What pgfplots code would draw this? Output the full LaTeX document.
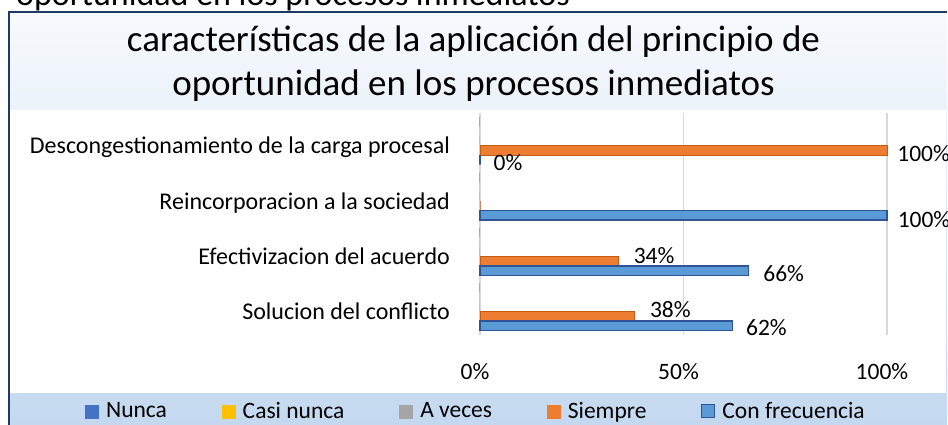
\documentclass[border=0pt]{standalone}
\usepackage{pgfplots}
\pgfplotsset{compat=1.18}
\usepackage{pgfplotstable}
\usepackage{fontspec}
\setmainfont{Carlito}
\definecolor{cNunca}{HTML}{4472C4}
\definecolor{cCasi}{HTML}{FFC000}
\definecolor{cAveces}{HTML}{A5A5A5}
\definecolor{cSiempre}{HTML}{ED7D31}
\definecolor{cSiempreD}{HTML}{C55A11}
\definecolor{cFrec}{HTML}{5B9BD5}
\definecolor{cFrecD}{HTML}{2F5597}
\definecolor{cFrame}{HTML}{1F3864}
\definecolor{cGrid}{HTML}{D9D9D9}
\definecolor{bgTop}{HTML}{F7FAFD}
\definecolor{bgBot}{HTML}{C3D8EF}

\pgfplotstableread{
y x
0 0
1 0
2 0
3 0
}\nunca
\pgfplotstableread{
y x
0 0
1 0
2 0
3 0
}\casinunca
\pgfplotstableread{
y x
0 0
1 0
2 0
3 0
}\aveces
\pgfplotstableread{
y x dx dy lbl
0 38 15 -1 1
1 34 15 -2 1
2 0 10 0 0
3 100 10 -11 1
}\siempre
\pgfplotstableread{
y x dx dy lbl
0 62 13 -10 1
1 66 14 -11 1
2 100 10 -12 1
3 0 13 -11 1
}\frec

\newcommand{\cfont}{\fontsize{23.5}{28}\selectfont}
\pgfplotsset{
  mylabels/.style={
    point meta=x,
    visualization depends on={\thisrow{dx} \as \dx},
    visualization depends on={\thisrow{dy} \as \dy},
    visualization depends on={\thisrow{lbl} \as \lbl},
    nodes near coords={\ifdim\lbl pt>0.5pt \pgfmathprintnumber[assume math mode=true]{\pgfplotspointmeta}\%\fi},
    every node near coord/.append style={anchor=base west, inner sep=0pt, xshift=\dx pt, yshift=\dy pt, font=\cfont, text=black},
  }
}

\begin{document}
\begin{tikzpicture}[x=1pt,y=1pt]
\shade[top color=bgTop, bottom color=bgBot] (9,-5) rectangle (947,413);
\fill[white] (10,32) rectangle (946,315);
\draw[cFrame, line width=2pt] (9,-5) -- (9,413) -- (947,413);
\node[anchor=base east, inner sep=0pt, font=\fontsize{34}{40}\selectfont] at (570,419) {oportunidad en los procesos inmediatos};
\node[anchor=base, inner sep=0pt, font=\fontsize{37}{44}\selectfont] at (473.5,373) {características de la aplicación del principio de};
\node[anchor=base, inner sep=0pt, font=\fontsize{37}{44}\selectfont] at (473.5,329) {oportunidad en los procesos inmediatos};
\begin{axis}[
  at={(480pt,90.45pt)}, anchor=south west,
  scale only axis, width=407pt, height=221.2pt,
  xbar, bar width=9.5pt, clip=false,
  xmin=0, xmax=100, ymin=-0.5, ymax=3.5,
  xtick={0,50,100}, xticklabels={0\%,50\%,100\%},
  ytick={0,1,2,3},
  yticklabels={Solucion del conflicto, Efectivizacion del acuerdo, Reincorporacion a la sociedad, Descongestionamiento de la carga procesal},
  axis line style={draw=none}, major tick length=0pt,
  xmajorgrids, grid style={cGrid, line width=1.5pt},
  tick label style={font=\cfont, text=black},
  yticklabel style={font=\fontsize{24}{28}\selectfont},
  xticklabel style={anchor=base, inner sep=0pt, yshift=-45pt, xshift=-5pt},
  yticklabel style={anchor=base east, inner sep=0pt, xshift=-30pt, yshift=-13pt},
  legend columns=5,
  legend cell align=left,
  legend style={draw=none, fill=none, at={(-0.0123,-0.3456)}, anchor=center,
    font=\cfont, nodes={inner sep=0pt},
    /tikz/every odd column/.append style={column sep=7pt},
    /tikz/every even column/.append style={column sep=55pt}},
]
\addplot[fill=cNunca, draw=cNunca, line width=1pt, bar shift=19pt,
  legend image code/.code={\draw[fill=cNunca, draw=cNunca, line width=0.8pt] (0pt,-7pt) rectangle (13pt,6pt);}] table[x=x,y=y] {\nunca};
\addlegendentry{Nunca}
\addplot[fill=cCasi, draw=cCasi, line width=1pt, bar shift=9.5pt,
  legend image code/.code={\draw[fill=cCasi, draw=cCasi, line width=0.8pt] (0pt,-7pt) rectangle (13pt,6pt);}] table[x=x,y=y] {\casinunca};
\addlegendentry{Casi nunca}
\addplot[fill=cAveces, draw=cAveces, line width=1pt, bar shift=0pt,
  legend image code/.code={\draw[fill=cAveces, draw=cAveces, line width=0.8pt] (0pt,-7pt) rectangle (13pt,6pt);}] table[x=x,y=y] {\aveces};
\addlegendentry{A veces}
\addplot[fill=cSiempre, draw=cSiempreD, line width=0.8pt, bar shift=-9.5pt, mylabels,
  legend image code/.code={\draw[fill=cSiempre, draw=cSiempre, line width=0.8pt] (0pt,-7pt) rectangle (13pt,6pt);}] table[x=x,y=y] {\siempre};
\addlegendentry{Siempre}
\addplot[fill=cFrec, draw=cFrecD, line width=1.5pt, bar shift=-19pt, mylabels,
  legend image code/.code={\draw[fill=cFrec, draw=cFrecD, line width=1pt] (0pt,-7pt) rectangle (13pt,6pt);}] table[x=x,y=y] {\frec};
\addlegendentry{Con frecuencia}
\end{axis}
\pgfresetboundingbox
\path[use as bounding box] (0,0) rectangle (948,425);
\end{tikzpicture}
\end{document}
